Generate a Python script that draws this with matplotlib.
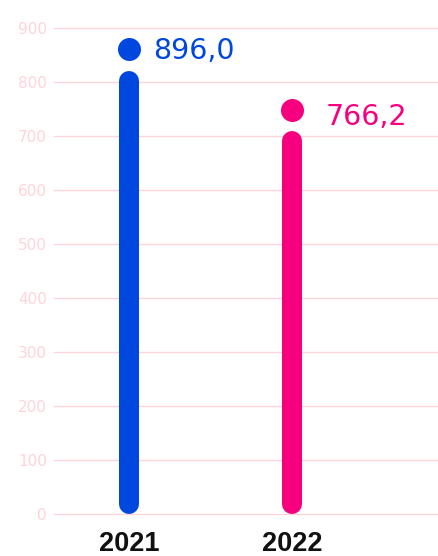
import matplotlib
matplotlib.use("Agg")
import matplotlib.pyplot as plt

# values
years = ["2021", "2022"]
values = [896.0, 766.2]
value_labels = ["896,0", "766,2"]
stem_tops = [820, 710]      # where the rounded bar ends
dot_levels = [862, 748]     # centre of the dot above the bar
y_ticks = [0, 100, 200, 300, 400, 500, 600, 700, 800, 900]

COLORS = ["#0047DF", "#F7007F"]
GRID = "#FFD3DA"
# label offsets from the dot centre, in points
LABEL_OFFSETS = [(17.6, -7.6), (24.1, -10.6)]

W, H, DPI = 439, 556, 100
fig = plt.figure(figsize=(W / DPI, H / DPI), dpi=DPI)
left, right, bottom, top = 54, 439, 514, 28
ax = fig.add_axes([left / W, 1 - bottom / H, (right - left) / W, (bottom - top) / H])
ax.set_ylim(0, 900)
ax.set_xlim(-0.46, 1.90)

for s in ax.spines.values():
    s.set_visible(False)
ax.set_yticks(y_ticks)
ax.set_yticklabels([str(t) for t in y_ticks], color=GRID, fontsize=11,
                   family="DejaVu Sans")
ax.tick_params(axis="y", length=0, pad=5)
ax.grid(axis="y", color=GRID, linewidth=1.0, zorder=0)
for gl in ax.get_ygridlines():
    gl.set_clip_on(False)
ax.set_axisbelow(True)

ax.set_xticks(range(len(years)))
ax.set_xticklabels(years, fontsize=19.5, fontweight="bold", color="#111111",
                   family="Liberation Sans")
ax.tick_params(axis="x", length=0, pad=12)

# bar with round caps; trim cap radius so ink spans 0..stem_top
lw_px = 20
px_per_unit = (bottom - top) / 900
cap = (lw_px / 2) / px_per_unit
for i, (st, dl) in enumerate(zip(stem_tops, dot_levels)):
    ax.plot([i, i], [cap, st - cap], color=COLORS[i], linewidth=lw_px * 72 / DPI,
            solid_capstyle="round", zorder=3, clip_on=False)
    ax.scatter([i], [dl], s=(23 * 72 / DPI) ** 2, color=COLORS[i], zorder=4,
               clip_on=False, linewidths=0)
    ax.annotate(value_labels[i], xy=(i, dl), xytext=LABEL_OFFSETS[i],
                textcoords="offset points", ha="left", va="baseline",
                fontsize=20.5, color=COLORS[i], family="DejaVu Sans")

fig.savefig("out.png", dpi=DPI)
